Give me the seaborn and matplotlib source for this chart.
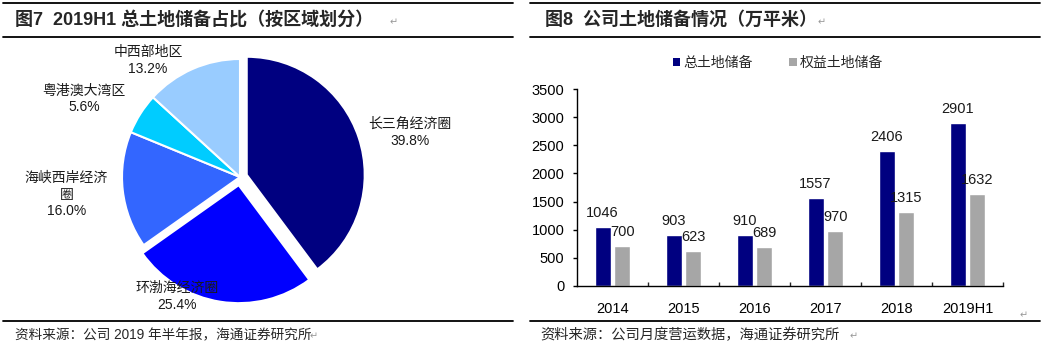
import pandas as pd
import seaborn as sns
import matplotlib.pyplot as plt
from matplotlib.lines import Line2D
from matplotlib.patches import Patch

# pie data
regions = ['长三角经济圈', '环渤海经济圈', '海峡西岸经济\n圈', '粤港澳大湾区', '中西部地区']
shares = [39.8, 25.4, 16.0, 5.6, 13.2]
pie_colors = ['#000080', '#0000FF', '#3366FF', '#00CCFF', '#99CCFF']

# bar data
years = ['2014', '2015', '2016', '2017', '2018', '2019H1']
total_land = [1046, 903, 910, 1557, 2406, 2901]
equity_land = [700, 623, 689, 970, 1315, 1632]
series_names = ['总土地储备', '权益土地储备']
bar_colors = ['#000080', '#A6A6A6']

# label placement for the pie (in units of the radius)
label_xy = [(1.44, 0.38), (-0.53, -1.01), (-1.47, -0.15), (-1.32, 0.66), (-0.78, 0.99)]
explode = [0.06, 0.07, 0, 0, 0]

sns.set_theme(style='white')
plt.rcParams['font.family'] = ['Liberation Sans', 'Noto Sans CJK SC']

W, H = 1044, 354
fig = plt.figure(figsize=(W / 100, H / 100), dpi=100)


def fx(px):
    return px / W


def fy(py):
    return 1 - py / H


# header / footer rules
for (x0, x1) in [(3, 513), (530, 1040)]:
    for y in [3, 37, 321]:
        fig.add_artist(Line2D([fx(x0), fx(x1)], [fy(y), fy(y)], color='black', lw=1.3))

fig.text(fx(15), fy(20), '图7  2019H1 总土地储备占比（按区域划分）', fontsize=13,
         fontweight='bold', va='center', ha='left')
fig.text(fx(390), fy(22), '↵', fontsize=7, color='#999999', va='center', family='DejaVu Sans')
fig.text(fx(545), fy(20), '图8  公司土地储备情况（万平米）', fontsize=13,
         fontweight='bold', va='center', ha='left')
fig.text(fx(818), fy(22), '↵', fontsize=7, color='#999999', va='center', family='DejaVu Sans')
fig.text(fx(15), fy(335), '资料来源：公司 2019 年半年报，海通证券研究所', fontsize=9.8,
         va='center', ha='left')
fig.text(fx(310), fy(336), '↵', fontsize=7, color='#999999', va='center', family='DejaVu Sans')
fig.text(fx(540), fy(335), '资料来源：公司月度营运数据，海通证券研究所', fontsize=10.3,
         va='center', ha='left')
fig.text(fx(850), fy(336), '↵', fontsize=7, color='#999999', va='center', family='DejaVu Sans')
fig.text(fx(1020), fy(315), '↵', fontsize=7, color='#999999', va='center', family='DejaVu Sans')

# ---- pie ----
cx, cy, r = 240, 177, 118
pl, pr, pt, pb = 5, 515, 40, 318
ax1 = fig.add_axes([fx(pl), fy(pb), (pr - pl) / W, (pb - pt) / H])
ax1.pie(shares, colors=pie_colors, startangle=90, counterclock=False, explode=explode,
        wedgeprops=dict(edgecolor='white', linewidth=1.5))
ax1.set_xlim((pl - cx) / r, (pr - cx) / r)
ax1.set_ylim((cy - pb) / r, (cy - pt) / r)
ax1.set_aspect('auto')
ax1.axis('off')
for name, val, (lx, ly) in zip(regions, shares, label_xy):
    ax1.text(lx, ly, f'{name}\n{val:.1f}%', ha='center', va='center', fontsize=10,
             multialignment='center', color='#1a1a1a', linespacing=1.25)

# ---- bars ----
bl, br, bt, bb = 577, 1003, 89.3, 285.7
ax2 = fig.add_axes([fx(bl), fy(bb), (br - bl) / W, (bb - bt) / H])
df = pd.DataFrame({
    'year': years * 2,
    'value': total_land + equity_land,
    'series': [series_names[0]] * len(years) + [series_names[1]] * len(years),
})
sns.barplot(data=df, x='year', y='value', hue='series', palette=bar_colors,
            width=0.563, gap=0.2, saturation=1, ax=ax2, legend=False)
for cont in ax2.containers:
    ax2.bar_label(cont, fontsize=10.5, padding=5, color='#1a1a1a')
ax2.set_ylim(0, 3500)
ax2.set_xlim(-0.5, len(years) - 0.5)
ax2.set_yticks(range(0, 3501, 500))
ax2.set_xlabel('')
ax2.set_ylabel('')
for s in ['top', 'right']:
    ax2.spines[s].set_visible(False)
for s in ['left', 'bottom']:
    ax2.spines[s].set_color('black')
    ax2.spines[s].set_linewidth(1)
ax2.tick_params(axis='y', left=True, direction='out', length=3, width=1, pad=6,
                labelsize=10.5, colors='black')
ax2.tick_params(axis='x', bottom=False, labelsize=10.5, pad=6, colors='black')
ax2.set_xticks([i + 0.5 for i in range(len(years))], minor=True)
ax2.tick_params(axis='x', which='minor', bottom=True, direction='in', length=3, width=1)
ax2.grid(False)

handles = [Patch(facecolor=c, edgecolor='none') for c in bar_colors]
fig.legend(handles, series_names, loc='center', bbox_to_anchor=(fx(778), fy(63)), ncol=2,
           frameon=False, fontsize=10, handlelength=0.55, handleheight=0.55,
           handletextpad=0.25, columnspacing=2.6)

fig.savefig('out.png', dpi=100)
